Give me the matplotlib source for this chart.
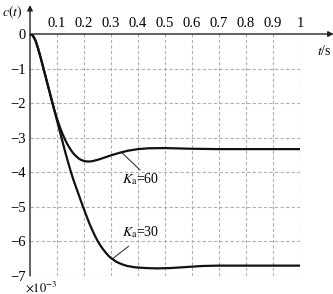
import matplotlib.pyplot as plt
import numpy as np

plt.rcParams['font.family'] = ['Liberation Serif', 'DejaVu Serif']
plt.rcParams['mathtext.fontset'] = 'stix'

# step response, units of 1e-3
t60 = [0, 0.01, 0.02, 0.03, 0.04, 0.05, 0.06, 0.07, 0.08, 0.09, 0.10, 0.11,
       0.12, 0.13, 0.14, 0.15, 0.16, 0.17, 0.18, 0.19, 0.20, 0.215, 0.23, 0.25,
       0.27, 0.30, 0.33, 0.36, 0.40, 0.44, 0.50, 0.55, 0.60, 0.70, 0.80, 0.90, 1.00]
c60 = [0, -0.04, -0.18, -0.42, -0.7, -1.0, -1.3, -1.6, -1.9, -2.2, -2.45, -2.68,
       -2.88, -3.06, -3.21, -3.34, -3.45, -3.53, -3.6, -3.645, -3.675, -3.69, -3.68, -3.64,
       -3.59, -3.51, -3.44, -3.38, -3.33, -3.305, -3.30, -3.31, -3.32, -3.33, -3.33, -3.33, -3.33]

t30 = [0, 0.01, 0.02, 0.03, 0.04, 0.05, 0.06, 0.07, 0.08, 0.09, 0.10, 0.11,
       0.12, 0.13, 0.14, 0.15, 0.16, 0.17, 0.18, 0.19, 0.20, 0.21, 0.22, 0.23,
       0.24, 0.25, 0.26, 0.27, 0.28, 0.29, 0.30, 0.32, 0.34, 0.36, 0.39, 0.43,
       0.47, 0.52, 0.58, 0.64, 0.70, 0.80, 0.90, 1.00]
c30 = [0, -0.04, -0.18, -0.42, -0.7, -1.0, -1.3, -1.6, -1.9, -2.2, -2.5, -2.8,
       -3.1, -3.4, -3.68, -3.95, -4.2, -4.42, -4.64, -4.86, -5.07, -5.28, -5.48, -5.66,
       -5.83, -5.98, -6.11, -6.22, -6.32, -6.41, -6.48, -6.59, -6.66, -6.71, -6.75, -6.77,
       -6.78, -6.77, -6.74, -6.71, -6.70, -6.70, -6.70, -6.70]

xticks = [0.1, 0.2, 0.3, 0.4, 0.5, 0.6, 0.7, 0.8, 0.9, 1.0]
xlabels = ['0.1', '0.2', '0.3', '0.4', '0.5', '0.6', '0.7', '0.8', '0.9', '1']
yticks = [0, -1, -2, -3, -4, -5, -6, -7]
ylabels = ['0', '\u22121', '\u22122', '\u22123', '\u22124', '\u22125', '\u22126', '\u22127']

fig = plt.figure(figsize=(3.33, 2.94), dpi=100)
ax = fig.add_axes([30/333, 18/294, 270/333, 242/294])
ax.set_xlim(0, 1)
ax.set_ylim(-7, 0)

for s in ['left', 'right', 'bottom', 'top']:
    ax.spines[s].set_visible(False)

# dashed grid incl. right and bottom border
for x in xticks:
    ax.plot([x, x], [-7, 0], color='#b0b0b0', ls=(0, (3, 2)), lw=0.8, zorder=1)
for y in yticks[1:]:
    ax.plot([0, 1], [y, y], color='#b0b0b0', ls=(0, (3, 2)), lw=0.8, zorder=1)

ax.plot(t60, c60, color='#111111', lw=1.6, solid_joinstyle='round', zorder=3)
ax.plot(t30, c30, color='#111111', lw=1.6, solid_joinstyle='round', zorder=3)

# axes with arrows
ax.annotate('', xy=(1.125, 1), xytext=(0, 1), xycoords='axes fraction',
            arrowprops=dict(arrowstyle='-|>', color='#222222', lw=1.0,
                            mutation_scale=8, shrinkA=0, shrinkB=0),
            annotation_clip=False)
ax.annotate('', xy=(0, 1.12), xytext=(0, 0), xycoords='axes fraction',
            arrowprops=dict(arrowstyle='-|>', color='#222222', lw=1.0,
                            mutation_scale=8, shrinkA=0, shrinkB=0),
            annotation_clip=False)

ax.xaxis.tick_top()
ax.set_xticks(xticks)
ax.set_xticklabels(xlabels, fontsize=10.5)
ax.set_yticks(yticks)
ax.set_yticklabels(ylabels, fontsize=10.5)
ax.tick_params(length=0, pad=3)

ax.text(-0.065, 1.09, r'$c(t)$', transform=ax.transAxes, fontsize=10,
        ha='center', va='center')
ax.text(1.09, 0.93, r'$t$/s', transform=ax.transAxes, fontsize=10,
        ha='center', va='center')
ax.text(-0.02, -0.045, r'$\times10^{-3}$', transform=ax.transAxes, fontsize=9,
        ha='left', va='center')

# curve labels with leader lines
ax.plot([0.34, 0.407], [-3.43, -3.93], color='#222222', lw=0.7)
ax.text(0.41, -4.2, r'$K_{\mathrm{a}}$=60', fontsize=10, ha='center', va='center')
ax.plot([0.306, 0.365], [-6.5, -6.14], color='#222222', lw=0.7)
ax.text(0.41, -5.72, r'$K_{\mathrm{a}}$=30', fontsize=10, ha='center', va='center')

plt.savefig('out.png', dpi=100)
